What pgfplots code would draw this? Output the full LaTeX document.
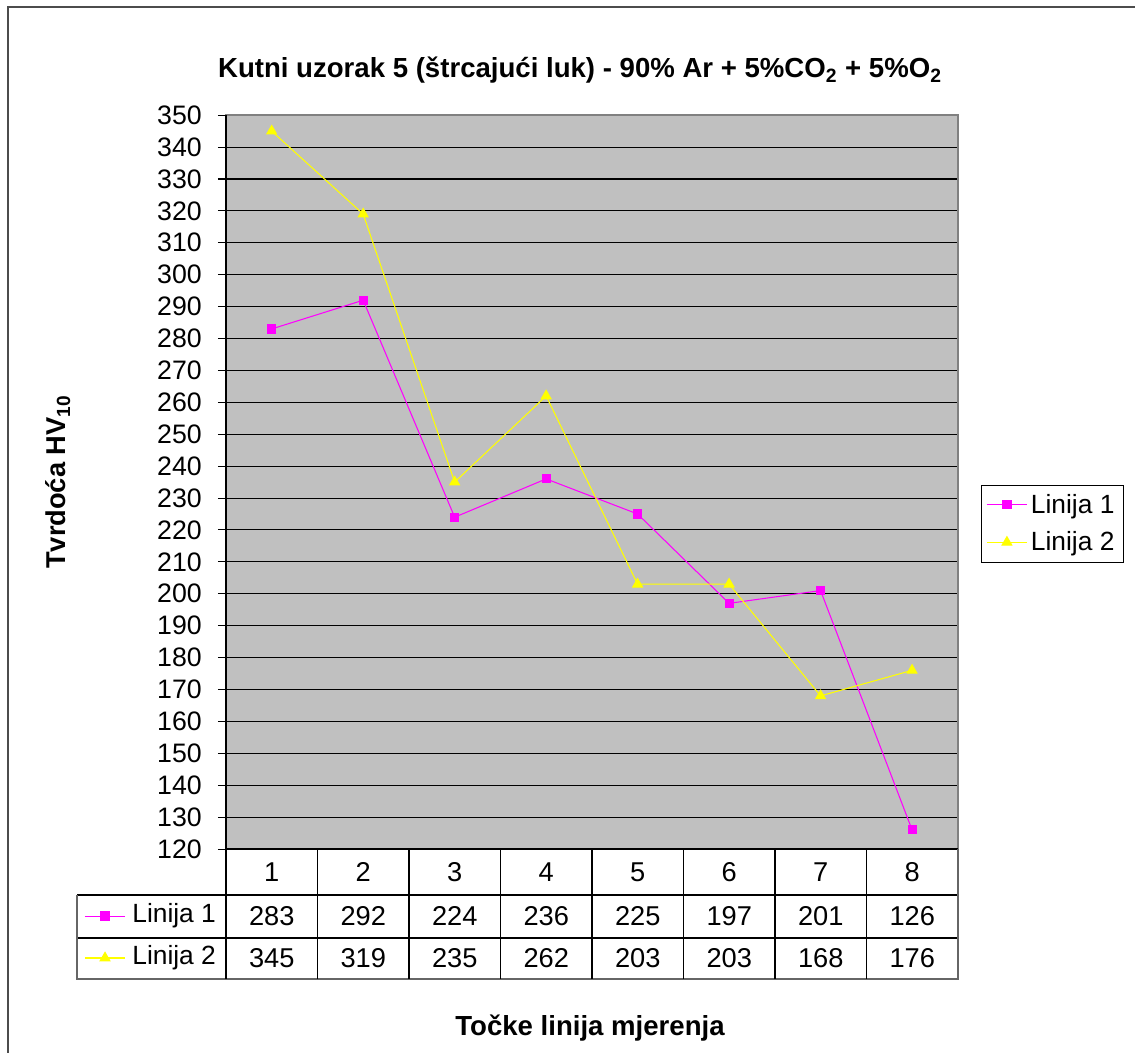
\documentclass[border=0pt]{standalone}
\usepackage{fontspec}
\setmainfont{Liberation Sans}
\usepackage{pgfplots}
\pgfplotsset{compat=1.18}
\definecolor{plotgray}{RGB}{192,192,192}
\definecolor{mag}{RGB}{255,0,255}
\definecolor{yel}{RGB}{255,255,0}
\begin{document}
\begin{tikzpicture}
\begin{scope}[x=0.02cm,y=0.02cm]
\useasboundingbox (0,0) rectangle (1135,1053);
\draw[line width=1.1pt, black!70] (8,1046) rectangle (1150,-20);
\end{scope}
\begin{axis}[at={(4.52cm,4.08cm)}, anchor=south west, scale only axis,
  width=14.64cm, height=14.68cm,
  xmin=0.5, xmax=8.5, ymin=120, ymax=350, ytick distance=10, xtick=\empty,
  ytick pos=left,
  axis background/.style={fill=plotgray},
  ymajorgrids, grid style={black, line width=0.6pt},
  axis line style={draw=gray, line width=0.9pt},
  tick align=outside, major tick length=0.16cm, tick style={black, line width=0.6pt},
  /pgf/number format/assume math mode=true,
  yticklabel style={font=\fontsize{15.2}{15}\selectfont, xshift=-0.2cm},
  clip=false,
  legend style={at={(1.0314,0.4435)}, anchor=west, draw=black, fill=white,
    font=\fontsize{15}{15}\selectfont, row sep=5pt, inner sep=3pt},
  legend cell align=left,
  legend image code/.code={\draw[mark repeat=2,mark phase=2,#1] plot coordinates {(0cm,0cm)(0.4cm,0cm)(0.8cm,0cm)};},
]
\draw[black, line width=0.9pt] (rel axis cs:0,0)--(rel axis cs:0,1);
\draw[black, line width=0.9pt] (rel axis cs:0,0)--(rel axis cs:1,0);
\addplot[mag, line width=0.6pt, mark=square*, mark size=2.3pt, mark options={fill=mag, draw=mag}]
  coordinates {(1,283)(2,292)(3,224)(4,236)(5,225)(6,197)(7,201)(8,126)};
\addlegendentry{Linija 1}
\addplot[yel, line width=0.6pt, mark=triangle*, mark size=3.2pt, mark options={fill=yel, draw=yel}]
  coordinates {(1,345)(2,319)(3,235)(4,262)(5,203)(6,203)(7,168)(8,176)};
\addlegendentry{Linija 2}
\addplot[mag, line width=0.6pt, mark=square*, mark size=2.3pt, mark options={fill=mag, draw=mag}, mark indices={2}, forget plot]
  coordinates {(-1.041,99.0)(-0.822,99.0)(-0.604,99.0)};
\addplot[yel, line width=0.6pt, mark=triangle*, mark size=3.2pt, mark options={fill=yel, draw=yel}, mark indices={2}, forget plot]
  coordinates {(-1.041,85.84)(-0.822,85.84)(-0.604,85.84)};
\end{axis}
\begin{scope}[x=0.02cm,y=0.02cm]
% data table
\draw[black, line width=0.7pt] (77,158)--(958,158) (77,115)--(958,115);
\draw[gray!80!black, line width=0.8pt] (77,158)--(77,74)--(958,74)--(958,204);
\foreach \k in {0,...,7} \draw[black, line width=0.7pt] ({226+91.5*\k},204)--({226+91.5*\k},74);
\foreach \v [count=\i] in {1,2,3,4,5,6,7,8}
  \node[font=\fontsize{15.5}{15}\selectfont] at ({226+91.5*(\i-0.5)},181) {\v};
\foreach \v [count=\i] in {283,292,224,236,225,197,201,126}
  \node[font=\fontsize{15.5}{15}\selectfont] at ({226+91.5*(\i-0.5)},137) {\v};
\foreach \v [count=\i] in {345,319,235,262,203,203,168,176}
  \node[font=\fontsize{15.5}{15}\selectfont] at ({226+91.5*(\i-0.5)},95) {\v};
\node[font=\fontsize{15}{15}\selectfont, anchor=west, inner sep=0pt] at (132,137) {Linija 1};
\node[font=\fontsize{15}{15}\selectfont, anchor=west, inner sep=0pt] at (132,95) {Linija 2};
% titles
\node[font=\bfseries\fontsize{15.7}{15}\selectfont] at (580,983) {Kutni uzorak 5 (štrcajući luk) - 90\% Ar + 5\%CO\textsubscript{2} + 5\%O\textsubscript{2}};
\node[font=\bfseries\fontsize{15.5}{15}\selectfont, rotate=90] at (58,571) {Tvrdoća HV\textsubscript{10}};
\node[font=\bfseries\fontsize{15.7}{15}\selectfont] at (590,25) {Točke linija mjerenja};
\end{scope}
\end{tikzpicture}
\end{document}
